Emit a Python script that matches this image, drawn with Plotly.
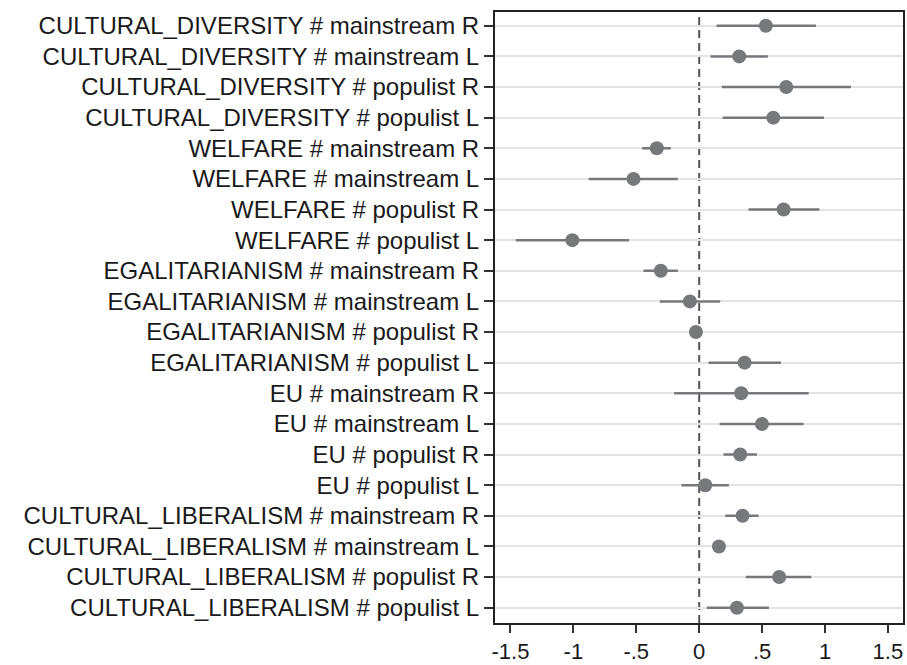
import plotly.graph_objects as go

labels = [
    "CULTURAL_DIVERSITY # mainstream R",
    "CULTURAL_DIVERSITY # mainstream L",
    "CULTURAL_DIVERSITY # populist R",
    "CULTURAL_DIVERSITY # populist L",
    "WELFARE # mainstream R",
    "WELFARE # mainstream L",
    "WELFARE # populist R",
    "WELFARE # populist L",
    "EGALITARIANISM # mainstream R",
    "EGALITARIANISM # mainstream L",
    "EGALITARIANISM # populist R",
    "EGALITARIANISM # populist L",
    "EU # mainstream R",
    "EU # mainstream L",
    "EU # populist R",
    "EU # populist L",
    "CULTURAL_LIBERALISM # mainstream R",
    "CULTURAL_LIBERALISM # mainstream L",
    "CULTURAL_LIBERALISM # populist R",
    "CULTURAL_LIBERALISM # populist L",
]
estimate = [0.53, 0.318, 0.692, 0.589, -0.337, -0.522, 0.671, -1.008, -0.305, -0.074,
            -0.026, 0.361, 0.334, 0.499, 0.326, 0.048, 0.345, 0.157, 0.636, 0.30]
ci_low = [0.138, 0.09, 0.18, 0.186, -0.453, -0.878, 0.392, -1.458, -0.443, -0.313,
          -0.05, 0.074, -0.199, 0.162, 0.193, -0.141, 0.207, 0.12, 0.371, 0.061]
ci_high = [0.928, 0.546, 1.207, 0.992, -0.225, -0.17, 0.955, -0.557, -0.17, 0.167,
           0.0, 0.65, 0.87, 0.83, 0.459, 0.236, 0.472, 0.195, 0.891, 0.554]
x_ticks = [-1.5, -1, -0.5, 0, 0.5, 1, 1.5]
x_tick_text = ["-1.5", "-1", "-.5", "0", ".5", "1", "1.5"]

pos = list(range(1, len(labels) + 1))
gray = "#76787c"

fig = go.Figure()
# CI segments
xs, ys = [], []
for p, lo, hi in zip(pos, ci_low, ci_high):
    xs += [lo, hi, None]
    ys += [p, p, None]
fig.add_trace(go.Scatter(x=xs, y=ys, mode="lines",
                         line=dict(color=gray, width=2.5), hoverinfo="skip"))
fig.add_trace(go.Scatter(x=estimate, y=pos, mode="markers",
                         marker=dict(color=gray, size=14, line=dict(width=0))))

fig.add_vline(x=0, line=dict(color="#555555", width=2, dash="8px,5px"), layer="below")

fig.update_layout(
    width=907, height=665,
    margin=dict(l=495, r=4, t=12, b=42, autoexpand=False),
    paper_bgcolor="white", plot_bgcolor="white",
    showlegend=False,
    font=dict(family="Liberation Sans, Arial, sans-serif", size=24, color="#1a1a1a"),
)
fig.update_xaxes(
    range=[-1.623, 1.62], tickvals=x_ticks, ticktext=x_tick_text,
    showgrid=False, zeroline=False,
    showline=True, linecolor="#222", linewidth=2, mirror=True,
    ticks="outside", ticklen=8, tickwidth=1.5, tickcolor="#333",
    tickfont=dict(size=22), automargin=False,
)
fig.update_yaxes(
    range=[20.5, 0.55], tickvals=pos, ticktext=labels,
    showgrid=True, gridcolor="#e4e4e4", gridwidth=2, zeroline=False,
    showline=True, linecolor="#222", linewidth=2, mirror=True,
    ticks="outside", ticklen=9, tickwidth=1.5, tickcolor="#333",
    ticklabelstandoff=0, automargin=False,
    tickfont=dict(size=24),
)

fig.write_html("out.html", config={"displayModeBar": False})

# remove default page margin so the figure fills the window exactly
with open("out.html", "r", encoding="utf-8") as f:
    html = f.read()
html = html.replace("<head>", "<head><style>html,body{margin:0;padding:0;overflow:hidden;}</style>", 1)
with open("out.html", "w", encoding="utf-8") as f:
    f.write(html)
